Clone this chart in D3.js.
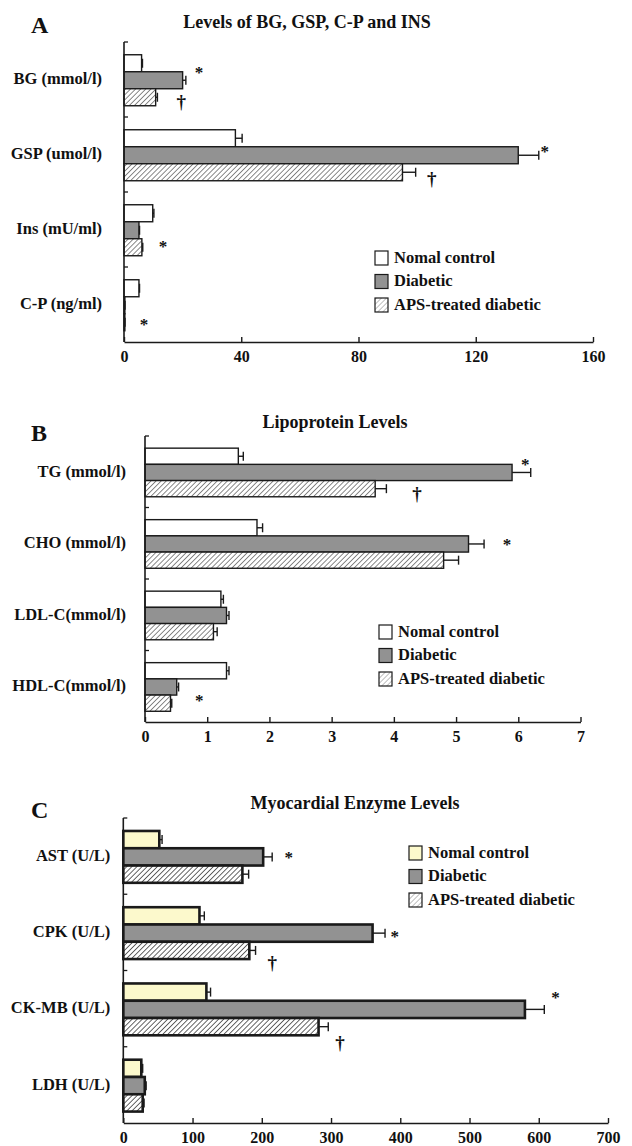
<!DOCTYPE html>
<html>
<head>
<meta charset="utf-8">
<script src="https://cdn.jsdelivr.net/npm/d3@7"></script>
<style>
  html, body { margin: 0; padding: 0; background: #fff; }
  svg { display: block; }
  text { font-family: "Liberation Serif", "Times New Roman", serif; font-weight: bold; fill: #111; }
</style>
</head>
<body>
<svg id="chart" width="632" height="1146"></svg>
<script>
// ---------- DATA ----------
const seriesNames = ["Nomal control", "Diabetic", "APS-treated diabetic"];

// Panel A
const titleA = "Levels of BG, GSP, C-P and INS";
const catsA = ["BG (mmol/l)", "GSP (umol/l)", "Ins (mU/ml)", "C-P (ng/ml)"];
const normalA = [6.0, 38.0, 9.8, 5.1];
const normalErrA = [0.3, 2.3, 0.4, 0.2];
const diabeticA = [20.0, 134.5, 5.1, 0.3];
const diabeticErrA = [1.1, 7.0, 0.2, 0.05];
const apsA = [10.8, 95.0, 6.1, 0.3];
const apsErrA = [0.6, 4.5, 0.3, 0.05];
const ticksA = [0, 40, 80, 120, 160];
const marksA = [ // [category, symbol, x value, position within band (0..1)]
  ["BG (mmol/l)", "*", 25.6, 0.35],
  ["BG (mmol/l)", "†", 19.5, 0.81],
  ["GSP (umol/l)", "*", 143.5, 0.40],
  ["GSP (umol/l)", "†", 105, 0.84],
  ["Ins (mU/ml)", "*", 13.3, 0.67],
  ["C-P (ng/ml)", "*", 6.8, 0.71]
];

// Panel B
const titleB = "Lipoprotein Levels";
const catsB = ["TG (mmol/l)", "CHO (mmol/l)", "LDL-C(mmol/l)", "HDL-C(mmol/l)"];
const normalB = [1.50, 1.80, 1.22, 1.31];
const normalErrB = [0.08, 0.09, 0.04, 0.04];
const diabeticB = [5.90, 5.20, 1.31, 0.51];
const diabeticErrB = [0.30, 0.25, 0.04, 0.03];
const apsB = [3.70, 4.80, 1.10, 0.41];
const apsErrB = [0.18, 0.24, 0.06, 0.02];
const ticksB = [0, 1, 2, 3, 4, 5, 6, 7];
const marksB = [
  ["TG (mmol/l)", "*", 6.11, 0.34],
  ["TG (mmol/l)", "†", 4.37, 0.82],
  ["CHO (mmol/l)", "*", 5.82, 0.45],
  ["HDL-C(mmol/l)", "*", 0.87, 0.64]
];

// Panel C
const titleC = "Myocardial Enzyme Levels";
const catsC = ["AST (U/L)", "CPK (U/L)", "CK-MB (U/L)", "LDH (U/L)"];
const normalC = [52, 110, 120, 26];
const normalErrC = [4, 7, 6, 2];
const diabeticC = [202, 360, 580, 31];
const diabeticErrC = [13, 18, 28, 2];
const apsC = [172, 182, 282, 28];
const apsErrC = [9, 9, 14, 2];
const ticksC = [0, 100, 200, 300, 400, 500, 600, 700];
const marksC = [
  ["AST (U/L)", "*", 239, 0.46],
  ["CPK (U/L)", "*", 392, 0.50],
  ["CPK (U/L)", "†", 215, 0.91],
  ["CK-MB (U/L)", "*", 624, 0.30],
  ["CK-MB (U/L)", "†", 313, 0.96]
];

// ---------- DRAWING ----------
const svg = d3.select("#chart");
const defs = svg.append("defs");

function hatch(id, color, width) {
  const p = defs.append("pattern")
    .attr("id", id).attr("patternUnits", "userSpaceOnUse")
    .attr("width", 3.6).attr("height", 3.6)
    .attr("patternTransform", "rotate(45)");
  p.append("rect").attr("width", 3.6).attr("height", 3.6).attr("fill", "#fff");
  p.append("line").attr("x1", 0).attr("y1", 0).attr("x2", 0).attr("y2", 3.6)
    .attr("stroke", color).attr("stroke-width", width);
}
hatch("hatchAB", "#4a4a4a", 1.3);
hatch("hatchC", "#333", 1.5);
hatch("hatchLeg", "#8a8a8a", 1.1);

function panel(cfg) {
  const g = svg.append("g");
  const x = d3.scaleLinear().domain(cfg.domain).range(cfg.xRange);
  const y = d3.scaleBand().domain(cfg.cats).range(cfg.yRange).padding(0);
  const bh = y.bandwidth();
  const sub = d3.scaleBand().domain([0, 1, 2])
    .range([bh * 0.17, bh * 0.17 + bh * 0.68]).padding(0);

  const rows = [];
  cfg.cats.forEach((c, i) => {
    cfg.series.forEach((s, j) => {
      rows.push({ cat: c, j, v: s.values[i], e: s.errs[i] });
    });
  });

  // bars
  g.selectAll("rect.bar").data(rows).join("rect")
    .attr("class", "bar")
    .attr("x", x(0))
    .attr("y", d => y(d.cat) + sub(d.j))
    .attr("width", d => x(d.v) - x(0))
    .attr("height", sub.bandwidth())
    .attr("fill", d => cfg.fills[d.j])
    .attr("stroke", "#1a1a1a")
    .attr("stroke-width", cfg.barStroke);

  // error bars
  const eg = g.selectAll("g.err").data(rows).join("g").attr("class", "err");
  eg.append("line")
    .attr("x1", d => x(d.v)).attr("x2", d => x(d.v + d.e))
    .attr("y1", d => y(d.cat) + sub(d.j) + sub.bandwidth() / 2)
    .attr("y2", d => y(d.cat) + sub(d.j) + sub.bandwidth() / 2)
    .attr("stroke", "#1a1a1a").attr("stroke-width", 1.4);
  eg.append("line")
    .attr("x1", d => x(d.v + d.e)).attr("x2", d => x(d.v + d.e))
    .attr("y1", d => y(d.cat) + sub(d.j) + sub.bandwidth() / 2 - 4.5)
    .attr("y2", d => y(d.cat) + sub(d.j) + sub.bandwidth() / 2 + 4.5)
    .attr("stroke", "#1a1a1a").attr("stroke-width", 1.4);

  // x axis
  const xa = g.append("g")
    .attr("transform", `translate(0,${cfg.yRange[1]})`)
    .call(d3.axisBottom(x).tickValues(cfg.ticks).tickSizeInner(-5).tickSizeOuter(0).tickPadding(9).tickFormat(d3.format("d")));
  xa.select(".domain").attr("stroke", "#1a1a1a").attr("stroke-width", 1.6);
  xa.selectAll(".tick line").attr("stroke", "#1a1a1a").attr("stroke-width", 1.4);
  xa.selectAll(".tick text").attr("font-size", 16).attr("font-family", "Liberation Serif").attr("font-weight", "bold").attr("fill", "#111");

  // y axis
  g.append("line")
    .attr("x1", x(0)).attr("x2", x(0))
    .attr("y1", cfg.yRange[0]).attr("y2", cfg.yRange[1])
    .attr("stroke", "#1a1a1a").attr("stroke-width", 1.6);
  g.selectAll("line.ytick").data(cfg.cats).join("line")
    .attr("class", "ytick")
    .attr("x1", x(0)).attr("x2", x(0) + 4)
    .attr("y1", d => y(d)).attr("y2", d => y(d))
    .attr("stroke", "#1a1a1a").attr("stroke-width", 1.3);
  g.selectAll("text.cat").data(cfg.cats).join("text")
    .attr("class", "cat")
    .attr("x", x(0) - cfg.labelGap)
    .attr("y", d => y(d) + bh / 2 + 1)
    .attr("text-anchor", "end")
    .attr("dominant-baseline", "middle")
    .attr("font-size", 16.5)
    .text(d => d);

  // significance marks
  g.selectAll("text.mark").data(cfg.marks).join("text")
    .attr("class", "mark")
    .attr("x", d => x(d[2]))
    .attr("y", d => y(d[0]) + bh * d[3] + (d[1] === "*" ? 10 : 5))
    .attr("text-anchor", "middle")
    .attr("font-size", d => d[1] === "*" ? 17 : 19)
    .attr("font-weight", "normal")
    .text(d => d[1]);

  // title and letter
  g.append("text").attr("x", cfg.titleX).attr("y", cfg.titleY)
    .attr("text-anchor", "middle").attr("font-size", 18).text(cfg.title);
  g.append("text").attr("x", 31).attr("y", cfg.letterY)
    .attr("font-size", 24).text(cfg.letter);

  // legend
  const lg = g.append("g").attr("transform", `translate(${cfg.legX},${cfg.legY})`);
  seriesNames.forEach((n, j) => {
    lg.append("rect").attr("x", 0).attr("y", j * 23.5 - 7).attr("width", 13).attr("height", 14)
      .attr("fill", cfg.legFills[j]).attr("stroke", "#1a1a1a").attr("stroke-width", 1.2);
    lg.append("text").attr("x", 19).attr("y", j * 23.5 + 1)
      .attr("dominant-baseline", "middle").attr("font-size", 16.5).text(n);
  });
}

panel({
  letter: "A", letterY: 33, title: titleA, titleX: 307, titleY: 28,
  cats: catsA, domain: [0, 160], xRange: [124, 593], yRange: [42, 342], ticks: ticksA,
  series: [
    { values: normalA, errs: normalErrA },
    { values: diabeticA, errs: diabeticErrA },
    { values: apsA, errs: apsErrA }
  ],
  fills: ["#ffffff", "#929292", "url(#hatchAB)"],
  legFills: ["#ffffff", "#929292", "url(#hatchLeg)"],
  barStroke: 1.4, labelGap: 22, marks: marksA, legX: 375, legY: 258
});

panel({
  letter: "B", letterY: 441, title: titleB, titleX: 335, titleY: 428,
  cats: catsB, domain: [0, 7], xRange: [145, 580.5], yRange: [436, 722], ticks: ticksB,
  series: [
    { values: normalB, errs: normalErrB },
    { values: diabeticB, errs: diabeticErrB },
    { values: apsB, errs: apsErrB }
  ],
  fills: ["#ffffff", "#929292", "url(#hatchAB)"],
  legFills: ["#ffffff", "#929292", "url(#hatchLeg)"],
  barStroke: 1.4, labelGap: 19, marks: marksB, legX: 379, legY: 632
});

panel({
  letter: "C", letterY: 818, title: titleC, titleX: 355, titleY: 809,
  cats: catsC, domain: [0, 700], xRange: [123.3, 608], yRange: [818, 1123], ticks: ticksC,
  series: [
    { values: normalC, errs: normalErrC },
    { values: diabeticC, errs: diabeticErrC },
    { values: apsC, errs: apsErrC }
  ],
  fills: ["#fcf9cc", "#929292", "url(#hatchC)"],
  legFills: ["#fcf9cc", "#929292", "url(#hatchLeg)"],
  barStroke: 2.6, labelGap: 13, marks: marksC, legX: 409, legY: 853
});
</script>
</body>
</html>
